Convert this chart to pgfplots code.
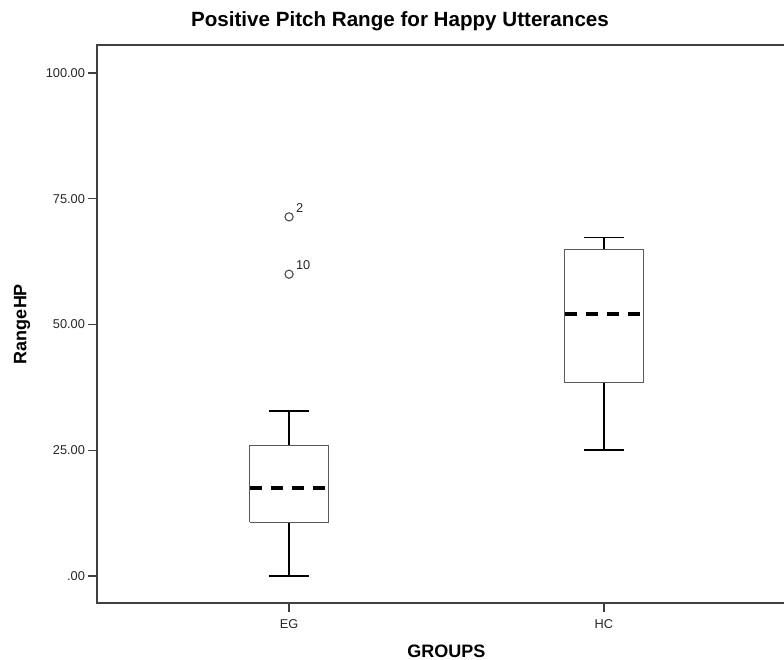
\documentclass[border=0pt]{standalone}
\usepackage{pgfplots}
\pgfplotsset{compat=1.18}
\usepackage{fontspec}
\setmainfont{Liberation Sans}
\begin{document}
\begin{tikzpicture}
\useasboundingbox (-48.5pt,-28.5pt) rectangle (343.5pt,301.5pt);
\begin{axis}[
  scale only axis, width=349.5pt, height=279pt,
  xmin=0.39, xmax=2.61, ymin=-5.37, ymax=105.57,
  axis line style={draw=black!75, line width=0.65pt},
  xtick={1,2}, xticklabels={EG,HC},
  ytick={0,25,50,75,100}, yticklabels={.00,25.00,50.00,75.00,100.00},
  tick align=outside, tick pos=left,
  major tick length=4.5pt,
  tick style={black!75, line width=0.65pt},
  ticklabel style={font=\fontsize{6.4}{7}\selectfont, text=black!85},
  yticklabel style={xshift=2pt},
  ylabel={RangeHP}, xlabel={GROUPS},
  label style={font=\bfseries\fontsize{9}{10.5}\selectfont},
  ylabel style={at={(axis description cs:-0.1073,0.5)}, anchor=center},
  xlabel style={at={(axis description cs:0.5,-0.086)}, anchor=center},
  boxst/.style={draw=black!65, line width=0.55pt, line join=miter},
  whisk/.style={draw=black, line width=0.75pt},
  med/.style={draw=black, line width=2pt, dash pattern=on 6pt off 4.5pt},
]
% EG: whiskers 0 / 32.8, quartiles 10.7 / 25.9, median 17.4
\addplot[whisk] coordinates {(1,25.9) (1,32.8)};
\addplot[whisk] coordinates {(1,0) (1,10.7)};
\addplot[whisk] coordinates {(0.9365,32.8) (1.0635,32.8)};
\addplot[whisk] coordinates {(0.9365,0) (1.0635,0)};
\addplot[boxst] coordinates {(0.875,10.7) (1.125,10.7) (1.125,25.9) (0.875,25.9) (0.875,10.7)};
\addplot[med] coordinates {(0.875,17.4) (1.125,17.4)};
% HC: whiskers 25.0 / 67.3, quartiles 38.4 / 64.9, median 52.1
\addplot[whisk] coordinates {(2,64.9) (2,67.3)};
\addplot[whisk] coordinates {(2,25.0) (2,38.4)};
\addplot[whisk] coordinates {(1.9365,67.3) (2.0635,67.3)};
\addplot[whisk] coordinates {(1.9365,25.0) (2.0635,25.0)};
\addplot[boxst] coordinates {(1.875,38.4) (2.125,38.4) (2.125,64.9) (1.875,64.9) (1.875,38.4)};
\addplot[med] coordinates {(1.875,52.1) (2.125,52.1)};
% outliers
\addplot[only marks, mark=o, mark size=2.05pt, mark options={draw=black!70, line width=0.55pt},
  nodes near coords, point meta=explicit symbolic,
  every node near coord/.style={anchor=south west, inner sep=0pt, xshift=3.2pt, yshift=1.8pt,
    font=\fontsize{6.4}{7}\selectfont, text=black!85}]
  table[meta=label] {
x y label
1 71.4 2
1 60.0 10
};
\end{axis}
\node[font=\bfseries\fontsize{10.3}{12}\selectfont] at (151.5pt,291pt) {Positive Pitch Range for Happy Utterances};
\end{tikzpicture}
\end{document}
